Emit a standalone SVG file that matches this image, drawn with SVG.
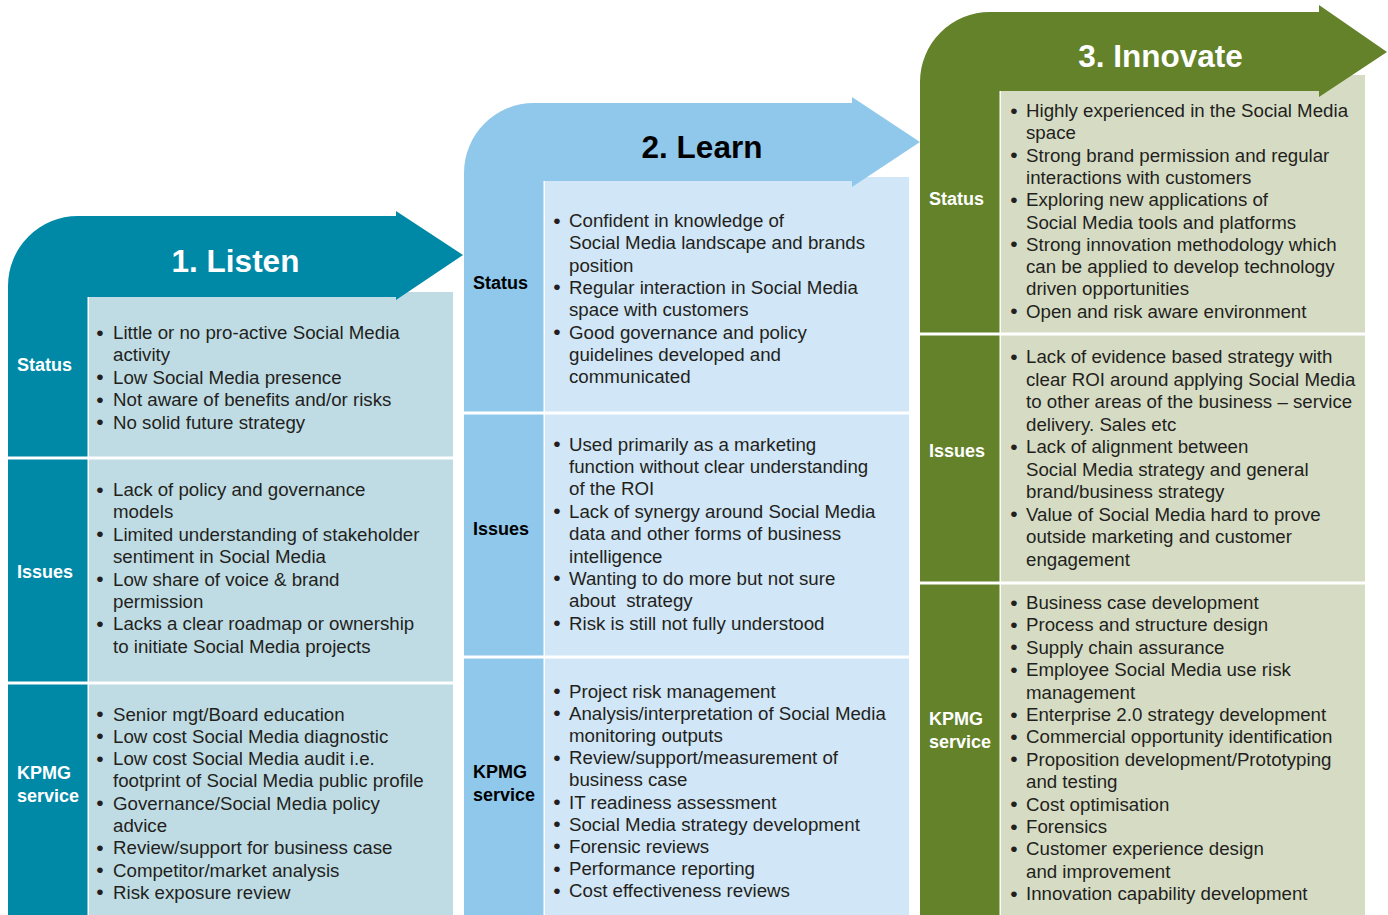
<svg xmlns="http://www.w3.org/2000/svg" width="1388" height="915" viewBox="0 0 1388 915">
<style>
.t{font-family:"Liberation Sans",Arial,sans-serif;font-size:18.7px;fill:#231f20}
.b{font-size:21px}
.lw{font-family:"Liberation Sans",Arial,sans-serif;font-size:18px;font-weight:bold;fill:#ffffff}
.lb{font-family:"Liberation Sans",Arial,sans-serif;font-size:18px;font-weight:bold;fill:#000000}
.ttl{font-family:"Liberation Sans",Arial,sans-serif;font-size:31.5px;font-weight:bold;text-anchor:middle}
.sep{fill:#ffffff}
</style>
<rect width="1388" height="915" fill="#ffffff"/>

<!-- Column 1: Listen -->
<g id="listen">
<rect x="88" y="292" width="365" height="623" fill="#bfdce4"/>
<path d="M8,915 V286 A70,70 0 0 1 78,216 H396 V211 L463,255 L396,300 V297 H88 V915 Z" fill="#0089a7"/>
<rect x="87.5" y="297" width="1.5" height="618" class="sep"/>
<rect x="8" y="456.5" width="445" height="3" class="sep"/>
<rect x="8" y="681.5" width="445" height="3" class="sep"/>
<text x="235.5" y="272" class="ttl" fill="#ffffff">1. Listen</text>
</g>
<g id="listen-status">
<text x="17" y="371" class="lw">Status</text>
<text class="t">
<tspan x="96.3" y="339.5" class="b">•</tspan><tspan x="113" y="339">Little or no pro-active Social Media</tspan>
<tspan x="113" y="361.4">activity</tspan>
<tspan x="96.3" y="384.3" class="b">•</tspan><tspan x="113" y="383.8">Low Social Media presence</tspan>
<tspan x="96.3" y="406.7" class="b">•</tspan><tspan x="113" y="406.2">Not aware of benefits and/or risks</tspan>
<tspan x="96.3" y="429.1" class="b">•</tspan><tspan x="113" y="428.6">No solid future strategy</tspan>
</text>
</g>
<g id="listen-issues">
<text x="17" y="578" class="lw">Issues</text>
<text class="t">
<tspan x="96.3" y="496.5" class="b">•</tspan><tspan x="113" y="496">Lack of policy and governance</tspan>
<tspan x="113" y="518.4">models</tspan>
<tspan x="96.3" y="541.3" class="b">•</tspan><tspan x="113" y="540.8">Limited understanding of stakeholder</tspan>
<tspan x="113" y="563.2">sentiment in Social Media</tspan>
<tspan x="96.3" y="586.1" class="b">•</tspan><tspan x="113" y="585.6">Low share of voice &amp; brand</tspan>
<tspan x="113" y="608">permission</tspan>
<tspan x="96.3" y="630.9" class="b">•</tspan><tspan x="113" y="630.4">Lacks a clear roadmap or ownership</tspan>
<tspan x="113" y="652.8">to initiate Social Media projects</tspan>
</text>
</g>
<g id="listen-kpmg">
<text x="17" y="779" class="lw">KPMG</text>
<text x="17" y="802" class="lw">service</text>
<text class="t">
<tspan x="96.3" y="721" class="b">•</tspan><tspan x="113" y="720.5">Senior mgt/Board education</tspan>
<tspan x="96.3" y="743.3" class="b">•</tspan><tspan x="113" y="742.8">Low cost Social Media diagnostic</tspan>
<tspan x="96.3" y="765.6" class="b">•</tspan><tspan x="113" y="765.1">Low cost Social Media audit i.e.</tspan>
<tspan x="113" y="787.4">footprint of Social Media public profile</tspan>
<tspan x="96.3" y="810.2" class="b">•</tspan><tspan x="113" y="809.7">Governance/Social Media policy</tspan>
<tspan x="113" y="832">advice</tspan>
<tspan x="96.3" y="854.8" class="b">•</tspan><tspan x="113" y="854.3">Review/support for business case</tspan>
<tspan x="96.3" y="877.1" class="b">•</tspan><tspan x="113" y="876.6">Competitor/market analysis</tspan>
<tspan x="96.3" y="899.4" class="b">•</tspan><tspan x="113" y="898.9">Risk exposure review</tspan>
</text>
</g>

<!-- Column 2: Learn -->
<g id="learn">
<rect x="544" y="177" width="365" height="738" fill="#d1e6f6"/>
<path d="M464,915 V173 A70,70 0 0 1 534,103 H852 V97 L920,142 L852,187 V181 H544 V915 Z" fill="#90c8eb"/>
<rect x="543.5" y="181" width="1.5" height="734" class="sep"/>
<rect x="464" y="411.5" width="445" height="3" class="sep"/>
<rect x="464" y="655.5" width="445" height="3" class="sep"/>
<text x="702" y="158" class="ttl" fill="#000000">2. Learn</text>
</g>
<g id="learn-status">
<text x="473" y="289" class="lb">Status</text>
<text class="t">
<tspan x="553.3" y="227.5" class="b">•</tspan><tspan x="569" y="227">Confident in knowledge of</tspan>
<tspan x="569" y="249.3">Social Media landscape and brands</tspan>
<tspan x="569" y="271.6">position</tspan>
<tspan x="553.3" y="294.4" class="b">•</tspan><tspan x="569" y="293.9">Regular interaction in Social Media</tspan>
<tspan x="569" y="316.2">space with customers</tspan>
<tspan x="553.3" y="339" class="b">•</tspan><tspan x="569" y="338.5">Good governance and policy</tspan>
<tspan x="569" y="360.8">guidelines developed and</tspan>
<tspan x="569" y="383.1">communicated</tspan>
</text>
</g>
<g id="learn-issues">
<text x="473" y="535" class="lb">Issues</text>
<text class="t">
<tspan x="553.3" y="451" class="b">•</tspan><tspan x="569" y="450.5">Used primarily as a marketing</tspan>
<tspan x="569" y="472.9">function without clear understanding</tspan>
<tspan x="569" y="495.3">of the ROI</tspan>
<tspan x="553.3" y="518.2" class="b">•</tspan><tspan x="569" y="517.7">Lack of synergy around Social Media</tspan>
<tspan x="569" y="540.1">data and other forms of business</tspan>
<tspan x="569" y="562.5">intelligence</tspan>
<tspan x="553.3" y="585.4" class="b">•</tspan><tspan x="569" y="584.9">Wanting to do more but not sure</tspan>
<tspan x="569" y="607.3">about&#160; strategy</tspan>
<tspan x="553.3" y="630.2" class="b">•</tspan><tspan x="569" y="629.7">Risk is still not fully understood</tspan>
</text>
</g>
<g id="learn-kpmg">
<text x="473" y="778" class="lb">KPMG</text>
<text x="473" y="801" class="lb">service</text>
<text class="t">
<tspan x="553.3" y="698" class="b">•</tspan><tspan x="569" y="697.5">Project risk management</tspan>
<tspan x="553.3" y="720.2" class="b">•</tspan><tspan x="569" y="719.7">Analysis/interpretation of Social Media</tspan>
<tspan x="569" y="741.9">monitoring outputs</tspan>
<tspan x="553.3" y="764.6" class="b">•</tspan><tspan x="569" y="764.1">Review/support/measurement of</tspan>
<tspan x="569" y="786.3">business case</tspan>
<tspan x="553.3" y="809" class="b">•</tspan><tspan x="569" y="808.5">IT readiness assessment</tspan>
<tspan x="553.3" y="831.2" class="b">•</tspan><tspan x="569" y="830.7">Social Media strategy development</tspan>
<tspan x="553.3" y="853.4" class="b">•</tspan><tspan x="569" y="852.9">Forensic reviews</tspan>
<tspan x="553.3" y="875.6" class="b">•</tspan><tspan x="569" y="875.1">Performance reporting</tspan>
<tspan x="553.3" y="897.8" class="b">•</tspan><tspan x="569" y="897.3">Cost effectiveness reviews</tspan>
</text>
</g>

<!-- Column 3: Innovate -->
<g id="innovate">
<rect x="1000" y="75" width="365" height="840" fill="#d6dcc4"/>
<path d="M920,915 V82 A70,70 0 0 1 990,12 H1319 V5 L1387,52 L1319,97 V91 H1000 V915 Z" fill="#63822a"/>
<rect x="999.5" y="91" width="1.5" height="824" class="sep"/>
<rect x="920" y="332.5" width="445" height="3" class="sep"/>
<rect x="920" y="581.5" width="445" height="3" class="sep"/>
<text x="1160.5" y="67" class="ttl" fill="#ffffff">3. Innovate</text>
</g>
<g id="innovate-status">
<text x="929" y="205" class="lw">Status</text>
<text class="t">
<tspan x="1010.3" y="117.5" class="b">•</tspan><tspan x="1026" y="117">Highly experienced in the Social Media</tspan>
<tspan x="1026" y="139.3">space</tspan>
<tspan x="1010.3" y="162.1" class="b">•</tspan><tspan x="1026" y="161.6">Strong brand permission and regular</tspan>
<tspan x="1026" y="183.9">interactions with customers</tspan>
<tspan x="1010.3" y="206.7" class="b">•</tspan><tspan x="1026" y="206.2">Exploring new applications of</tspan>
<tspan x="1026" y="228.5">Social Media tools and platforms</tspan>
<tspan x="1010.3" y="251.3" class="b">•</tspan><tspan x="1026" y="250.8">Strong innovation methodology which</tspan>
<tspan x="1026" y="273.1">can be applied to develop technology</tspan>
<tspan x="1026" y="295.4">driven opportunities</tspan>
<tspan x="1010.3" y="318.2" class="b">•</tspan><tspan x="1026" y="317.7">Open and risk aware environment</tspan>
</text>
</g>
<g id="innovate-issues">
<text x="929" y="457" class="lw">Issues</text>
<text class="t">
<tspan x="1010.3" y="363.5" class="b">•</tspan><tspan x="1026" y="363">Lack of evidence based strategy with</tspan>
<tspan x="1026" y="385.5">clear ROI around applying Social Media</tspan>
<tspan x="1026" y="408">to other areas of the business – service</tspan>
<tspan x="1026" y="430.5">delivery. Sales etc</tspan>
<tspan x="1010.3" y="453.5" class="b">•</tspan><tspan x="1026" y="453">Lack of alignment between</tspan>
<tspan x="1026" y="475.5">Social Media strategy and general</tspan>
<tspan x="1026" y="498">brand/business strategy</tspan>
<tspan x="1010.3" y="521" class="b">•</tspan><tspan x="1026" y="520.5">Value of Social Media hard to prove</tspan>
<tspan x="1026" y="543">outside marketing and customer</tspan>
<tspan x="1026" y="565.5">engagement</tspan>
</text>
</g>
<g id="innovate-kpmg">
<text x="929" y="725" class="lw">KPMG</text>
<text x="929" y="748" class="lw">service</text>
<text class="t">
<tspan x="1010.3" y="609.5" class="b">•</tspan><tspan x="1026" y="609">Business case development</tspan>
<tspan x="1010.3" y="631.9" class="b">•</tspan><tspan x="1026" y="631.4">Process and structure design</tspan>
<tspan x="1010.3" y="654.3" class="b">•</tspan><tspan x="1026" y="653.8">Supply chain assurance</tspan>
<tspan x="1010.3" y="676.7" class="b">•</tspan><tspan x="1026" y="676.2">Employee Social Media use risk</tspan>
<tspan x="1026" y="698.6">management</tspan>
<tspan x="1010.3" y="721.5" class="b">•</tspan><tspan x="1026" y="721">Enterprise 2.0 strategy development</tspan>
<tspan x="1010.3" y="743.9" class="b">•</tspan><tspan x="1026" y="743.4">Commercial opportunity identification</tspan>
<tspan x="1010.3" y="766.3" class="b">•</tspan><tspan x="1026" y="765.8">Proposition development/Prototyping</tspan>
<tspan x="1026" y="788.2">and testing</tspan>
<tspan x="1010.3" y="811.1" class="b">•</tspan><tspan x="1026" y="810.6">Cost optimisation</tspan>
<tspan x="1010.3" y="833.5" class="b">•</tspan><tspan x="1026" y="833">Forensics</tspan>
<tspan x="1010.3" y="855.9" class="b">•</tspan><tspan x="1026" y="855.4">Customer experience design</tspan>
<tspan x="1026" y="877.8">and improvement</tspan>
<tspan x="1010.3" y="900.7" class="b">•</tspan><tspan x="1026" y="900.2">Innovation capability development</tspan>
</text>
</g>
<g id="connectors"></g>
</svg>
